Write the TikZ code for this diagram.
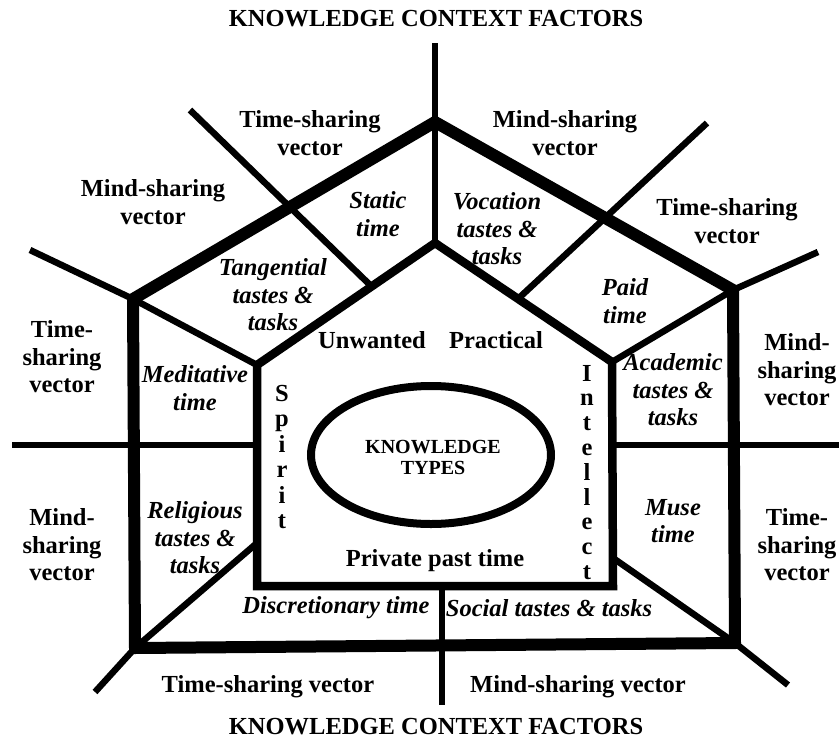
\documentclass[tikz,border=0pt]{standalone}
\usepackage{fontspec}
\setmainfont{Liberation Serif}
\usetikzlibrary{shapes.geometric}
\begin{document}
\begin{tikzpicture}[x=1pt,y=-1pt,
  outerw/.style={line width=12pt},
  innerw/.style={line width=8.5pt},
  vecw/.style={line width=6.5pt},
  lbl/.style={font=\fontsize{24.5}{27.5}\selectfont\bfseries, align=center, inner sep=0pt},
  ilbl/.style={font=\fontsize{24.5}{27.5}\selectfont\bfseries\itshape, align=center, inner sep=0pt},
  klbl/.style={font=\fontsize{20}{21}\selectfont\bfseries, align=center, inner sep=0pt},
]
\useasboundingbox (0,0) rectangle (839,742);
% outer pentagon
\coordinate (O1) at (435,122);
\coordinate (O2) at (133,299);
\coordinate (O3) at (135,648);
\coordinate (O4) at (735,643);
\coordinate (O5) at (733,290);
% inner pentagon
\coordinate (I1) at (435,243);
\coordinate (I2) at (257,365);
\coordinate (I3) at (257,586);
\coordinate (I4) at (613,586);
\coordinate (I5) at (612,362);
% free ends of the vectors
\coordinate (Ttop) at (435,43);
\coordinate (TLa) at (190,110);
\coordinate (TLb) at (368,283);
\coordinate (TRa) at (707,123);
\coordinate (TRb) at (520,297);
\coordinate (Lup) at (30,250);
\coordinate (Rup) at (818,252);
\coordinate (Lh1) at (12,445);
\coordinate (Lh2) at (257,445);
\coordinate (Rh1) at (613,445);
\coordinate (Rh2) at (839,445);
\coordinate (BLin) at (257,543);
\coordinate (BLout) at (95,692);
\coordinate (BRin) at (613,558);
\coordinate (BRout) at (788,685);
\coordinate (Bv1) at (442,586);
\coordinate (Bv2) at (442,705);
\coordinate (TLend) at (intersection of TLa--TLb and I2--I1);
\coordinate (TRend) at (intersection of TRa--TRb and I1--I5);

% vectors
\draw[vecw] (Ttop) -- (I1);
\draw[vecw] (TLa) -- (TLend);
\draw[vecw] (TRa) -- (TRend);
\draw[vecw] (Lup) -- (O2) -- (I2);
\draw[vecw] (Rup) -- (O5) -- (I5);
\draw[vecw] (Lh1) -- (Lh2);
\draw[vecw] (Rh1) -- (Rh2);
\draw[vecw] (BLin) -- (O3) -- (BLout);
\draw[vecw] (BRin) -- (O4) -- (BRout);
\draw[vecw] (Bv1) -- (Bv2);

\draw[outerw] (O1) -- (O2) -- (O3) -- (O4) -- (O5) -- cycle;
\draw[innerw] (I1) -- (I2) -- (I3) -- (I4) -- (I5) -- cycle;

\node[draw, line width=8pt, ellipse, minimum width=240pt, minimum height=138pt, inner sep=0pt] (ell) at (431,455) {};
\node[klbl] (kt) at (433,457) {KNOWLEDGE\\TYPES};

% titles
\node[lbl] (ttop) at (436,19) {KNOWLEDGE CONTEXT FACTORS};
\node[lbl] (tbot) at (436,727) {KNOWLEDGE CONTEXT FACTORS};

% outer vector labels
\node[lbl] (v1) at (310,133) {Time-sharing\\vector};
\node[lbl] (v2) at (565,133) {Mind-sharing\\vector};
\node[lbl] (v3) at (153,202) {Mind-sharing\\vector};
\node[lbl] (v4) at (727,221) {Time-sharing\\vector};
\node[lbl] (v5) at (62,357) {Time-\\sharing\\vector};
\node[lbl] (v6) at (797,370) {Mind-\\sharing\\vector};
\node[lbl] (v7) at (62,545) {Mind-\\sharing\\vector};
\node[lbl] (v8) at (797,545) {Time-\\sharing\\vector};
\node[lbl] (v9) at (268,687) {Time-sharing vector};
\node[lbl] (v10) at (578,687) {Mind-sharing vector};

% region labels
\node[ilbl] (r1) at (378,214) {Static\\time};
\node[ilbl] (r2) at (497,229) {Vocation\\tastes \&\\tasks};
\node[ilbl] (r3) at (273,295) {Tangential\\tastes \&\\tasks};
\node[ilbl] (r4) at (625,301) {Paid\\time};
\node[ilbl] (r5) at (195,388) {Meditative\\time};
\node[ilbl] (r6) at (673,390) {Academic\\tastes \&\\tasks};
\node[ilbl] (r7) at (195,538) {Religious\\tastes \&\\tasks};
\node[ilbl] (r8) at (673,521) {Muse\\time};
\node[ilbl] (r9) at (336,608) {Discretionary time};
\node[ilbl] (r10) at (549,608) {Social tastes \& tasks};

% inner labels
\node[lbl] (u1) at (372,340) {Unwanted};
\node[lbl] (u2) at (496,340) {Practical};
\node[lbl] (u3) at (435,561) {Private past time};
\foreach \ch [count=\i] in {S,p,i,r,i,t}
  \node[lbl, anchor=base] (sp\i) at (282,{401+25.5*(\i-1)}) {\ch};
\foreach \ch [count=\i] in {I,n,t,e,l,l,e,c,t}
  \node[lbl, anchor=base] (in\i) at (587,{381+24.8*(\i-1)}) {\ch};
\end{tikzpicture}
\end{document}
